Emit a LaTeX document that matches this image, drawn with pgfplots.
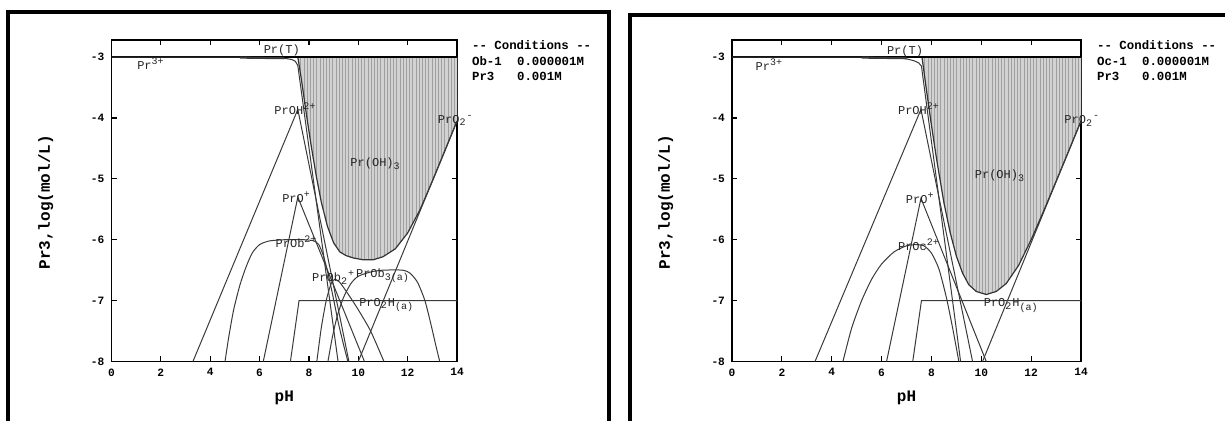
\documentclass[border=0pt]{standalone}
\usepackage{fontspec}
\setmonofont{Liberation Mono}
\renewcommand{\familydefault}{\ttdefault}
\usepackage{pgfplots}
\pgfplotsset{compat=1.18}
\usetikzlibrary{patterns.meta}

\definecolor{curve}{HTML}{3A3A3A}
\definecolor{shade}{HTML}{D2D2D2}
\definecolor{stripe}{HTML}{A0A0A0}

\pgfplotsset{
  speciation/.style={
    scale only axis, width=172.75pt, height=160.75pt,
    xmin=0, xmax=14, ymin=-8, ymax=-2.72,
    xtick={0,2,...,14}, ytick={-8,-7,...,-3},
    tick align=inside, major tick length=2.6pt,
    axis line style={line width=0.8pt},
    every tick/.style={black, line width=0.6pt},
    ticklabel style={font=\bfseries\fontsize{5.6}{6}\selectfont},
    /pgf/number format/assume math mode=true,
    xlabel={pH}, ylabel={Pr3,log(mol/L)},
    label style={font=\bfseries\fontsize{8}{9}\selectfont},
    xlabel style={at={(axis description cs:0.5,-0.113)}, anchor=center},
    ylabel style={at={(axis description cs:-0.19,0.495)}, anchor=center},
    clip mode=individual,
    cycle list={{curve, solid, mark=none, line width=0.5pt}},
  },
  species/.style={curve, solid, mark=none, line width=0.5pt},
  solid phase/.style={draw=none, fill=shade, mark=none,
    postaction={pattern={Lines[angle=90, distance=1.6pt, line width=0.5pt]}, pattern color=stripe}},
  boundary/.style={black!80, line width=0.6pt, mark=none},
  total/.style={black, line width=0.9pt, mark=none},
}
\tikzset{spc/.style={font=\fontsize{6}{7}\selectfont, inner sep=0pt, text=black!85},
         cond/.style={font=\bfseries\fontsize{6.2}{7}\selectfont, inner sep=0pt, anchor=base west}}

\begin{document}
\begin{tikzpicture}
\useasboundingbox (0,0) rectangle (612.5pt,210.5pt);

% panel frames
\draw[line width=2pt] (4pt,-2pt) -- (4pt,204.5pt) -- (304.5pt,204.5pt) -- (304.5pt,-2pt);
\draw[line width=2pt] (315pt,-2pt) -- (315pt,203pt) -- (614pt,203pt);

% ---------------- ligand Ob ----------------
\begin{axis}[speciation, at={(55.75pt,29.75pt)}, anchor=south west]
  % Pr(OH)3 stability field
  \addplot[solid phase] coordinates {
    (7.55,-3) (7.7,-3.38) (7.9,-3.95) (8.1,-4.48) (8.3,-4.96) (8.5,-5.38)
    (8.75,-5.78) (9.0,-6.05) (9.25,-6.2) (9.5,-6.26) (9.8,-6.3) (10.2,-6.33)
    (10.6,-6.33) (11.0,-6.28) (11.5,-6.15) (12.0,-5.89) (12.5,-5.51)
    (13.0,-5.04) (13.5,-4.55) (14,-4.05) (14,-3) } -- cycle;
  \addplot[boundary] coordinates {
    (7.55,-3) (7.7,-3.38) (7.9,-3.95) (8.1,-4.48) (8.3,-4.96) (8.5,-5.38)
    (8.75,-5.78) (9.0,-6.05) (9.25,-6.2) (9.5,-6.26) (9.8,-6.3) (10.2,-6.33)
    (10.6,-6.33) (11.0,-6.28) (11.5,-6.15) (12.0,-5.89) (12.5,-5.51)
    (13.0,-5.04) (13.5,-4.55) (14,-4.05) };
  % Pr(T)
  \addplot[total] coordinates {(0,-3) (14,-3)};
  % Pr3+
  \addplot[species] coordinates {(0,-3) (5.2,-3) (6.5,-3.01) (7.0,-3.02) (7.3,-3.04)
    (7.45,-3.07) (7.55,-3.14) (9.18,-8)};
  \addplot[species, line width=1pt] coordinates {(5.2,-3.01) (7.0,-3.02)};
  % PrOH2+
  \addplot[species] coordinates {(3.3,-8) (7.55,-3.86) (9.62,-8)};
  % PrO+
  \addplot[species] coordinates {(6.15,-8) (7.55,-5.3) (10.25,-8)};
  % PrO2H(a)
  \addplot[species] coordinates {(7.25,-8) (7.6,-7) (14,-7)};
  % PrO2-
  \addplot[species] coordinates {(10.0,-8) (14,-4.05)};
  % PrOb2+
  \addplot[species, smooth, tension=0.4] coordinates {(4.6,-8) (4.75,-7.6) (4.95,-7.15)
    (5.2,-6.75) (5.45,-6.45) (5.7,-6.22) (6.0,-6.08) (6.4,-6.02) (7.0,-6.0)
    (7.8,-6.0) (8.2,-6.02) (8.4,-6.08) (8.6,-6.28) (8.8,-6.6) (9.0,-6.98)
    (9.2,-7.38) (9.4,-7.72) (9.58,-8)};
  % PrOb2+ (two ligands)
  \addplot[species, smooth, tension=0.4] coordinates {(8.32,-8) (8.5,-7.45) (8.7,-7.0)
    (8.9,-6.72) (9.05,-6.65) (9.25,-6.7) (9.6,-6.9) (10.0,-7.15) (10.5,-7.5)
    (11.04,-8)};
  % PrOb3(a)
  \addplot[species, smooth, tension=0.4] coordinates {(8.77,-8) (8.95,-7.6) (9.15,-7.25)
    (9.4,-6.95) (9.7,-6.72) (10.0,-6.6) (10.5,-6.53) (11.0,-6.5) (11.8,-6.5)
    (12.1,-6.55) (12.4,-6.7) (12.7,-7.0) (12.95,-7.4) (13.15,-7.75) (13.3,-8)};

  \node[spc] at (axis cs:6.9,-2.89) {Pr(T)};
  \node[spc] at (axis cs:1.6,-3.11) {Pr\textsuperscript{3+}};
  \node[spc] at (axis cs:7.45,-3.85) {PrOH\textsuperscript{2+}};
  \node[spc] at (axis cs:13.95,-4.04) {PrO\textsubscript{2}\textsuperscript{-}};
  \node[spc] at (axis cs:10.7,-4.75) {Pr(OH)\textsubscript{3}};
  \node[spc] at (axis cs:7.5,-5.3) {PrO\textsuperscript{+}};
  \node[spc] at (axis cs:7.5,-6.03) {PrOb\textsuperscript{2+}};
  \node[spc] at (axis cs:9.0,-6.62) {PrOb\textsubscript{2}\textsuperscript{+}};
  \node[spc] at (axis cs:11.0,-6.59) {PrOb\textsubscript{3(a)}};
  \node[spc] at (axis cs:11.15,-7.07) {PrO\textsubscript{2}H\textsubscript{(a)}};
\end{axis}

\node[cond] at (235.85pt,185.75pt) {-- Conditions --};
\node[cond] at (235.85pt,177.5pt) {Ob-1};
\node[cond] at (258.35pt,177.5pt) {0.000001M};
\node[cond] at (235.85pt,170pt) {Pr3};
\node[cond] at (258.35pt,170pt) {0.001M};

% ---------------- ligand Oc ----------------
\begin{axis}[speciation, at={(366pt,29.75pt)}, anchor=south west, width=174.5pt]
  \addplot[solid phase] coordinates {
    (7.62,-3) (7.7,-3.24) (7.8,-3.54) (7.9,-3.83) (8.0,-4.12) (8.2,-4.66)
    (8.5,-5.39) (8.75,-5.88) (9.0,-6.27) (9.25,-6.55) (9.5,-6.74) (9.8,-6.85)
    (10.2,-6.9) (10.6,-6.85) (11.0,-6.72) (11.5,-6.42) (12.0,-6.0) (12.5,-5.53)
    (13.0,-5.04) (13.5,-4.55) (14,-4.05) (14,-3) } -- cycle;
  \addplot[boundary] coordinates {
    (7.62,-3) (7.7,-3.24) (7.8,-3.54) (7.9,-3.83) (8.0,-4.12) (8.2,-4.66)
    (8.5,-5.39) (8.75,-5.88) (9.0,-6.27) (9.25,-6.55) (9.5,-6.74) (9.8,-6.85)
    (10.2,-6.9) (10.6,-6.85) (11.0,-6.72) (11.5,-6.42) (12.0,-6.0) (12.5,-5.53)
    (13.0,-5.04) (13.5,-4.55) (14,-4.05) };
  \addplot[total] coordinates {(0,-3) (14,-3)};
  \addplot[species] coordinates {(0,-3) (5.2,-3) (6.6,-3.01) (7.0,-3.03) (7.3,-3.06)
    (7.5,-3.1) (7.6,-3.15) (9.17,-8)};
  \addplot[species, line width=1pt] coordinates {(5.2,-3.01) (7.0,-3.02)};
  \addplot[species] coordinates {(3.33,-8) (7.58,-3.86) (9.65,-8)};
  \addplot[species] coordinates {(6.2,-8) (7.58,-5.32) (10.2,-8)};
  \addplot[species] coordinates {(7.25,-8) (7.6,-7) (14,-7)};
  \addplot[species] coordinates {(10.05,-8) (14,-4.05)};
  % PrOc2+
  \addplot[species, smooth, tension=0.4] coordinates {(4.45,-8) (4.8,-7.45) (5.2,-7.0)
    (5.6,-6.65) (6.0,-6.4) (6.5,-6.2) (7.0,-6.1) (7.4,-6.08) (7.7,-6.1)
    (8.0,-6.22) (8.3,-6.48) (8.6,-6.95) (8.85,-7.45) (9.1,-8)};

  \node[spc] at (axis cs:6.94,-2.91) {Pr(T)};
  \node[spc] at (axis cs:1.5,-3.13) {Pr\textsuperscript{3+}};
  \node[spc] at (axis cs:7.5,-3.85) {PrOH\textsuperscript{2+}};
  \node[spc] at (axis cs:14.05,-4.05) {PrO\textsubscript{2}\textsuperscript{-}};
  \node[spc] at (axis cs:10.75,-4.95) {Pr(OH)\textsubscript{3}};
  \node[spc] at (axis cs:7.55,-5.31) {PrO\textsuperscript{+}};
  \node[spc] at (axis cs:7.5,-6.08) {PrOc\textsuperscript{2+}};
  \node[spc] at (axis cs:11.2,-7.08) {PrO\textsubscript{2}H\textsubscript{(a)}};
\end{axis}

\node[cond] at (548.35pt,185.75pt) {-- Conditions --};
\node[cond] at (548.35pt,177.5pt) {Oc-1};
\node[cond] at (570.85pt,177.5pt) {0.000001M};
\node[cond] at (548.35pt,170pt) {Pr3};
\node[cond] at (570.85pt,170pt) {0.001M};
\end{tikzpicture}
\end{document}
